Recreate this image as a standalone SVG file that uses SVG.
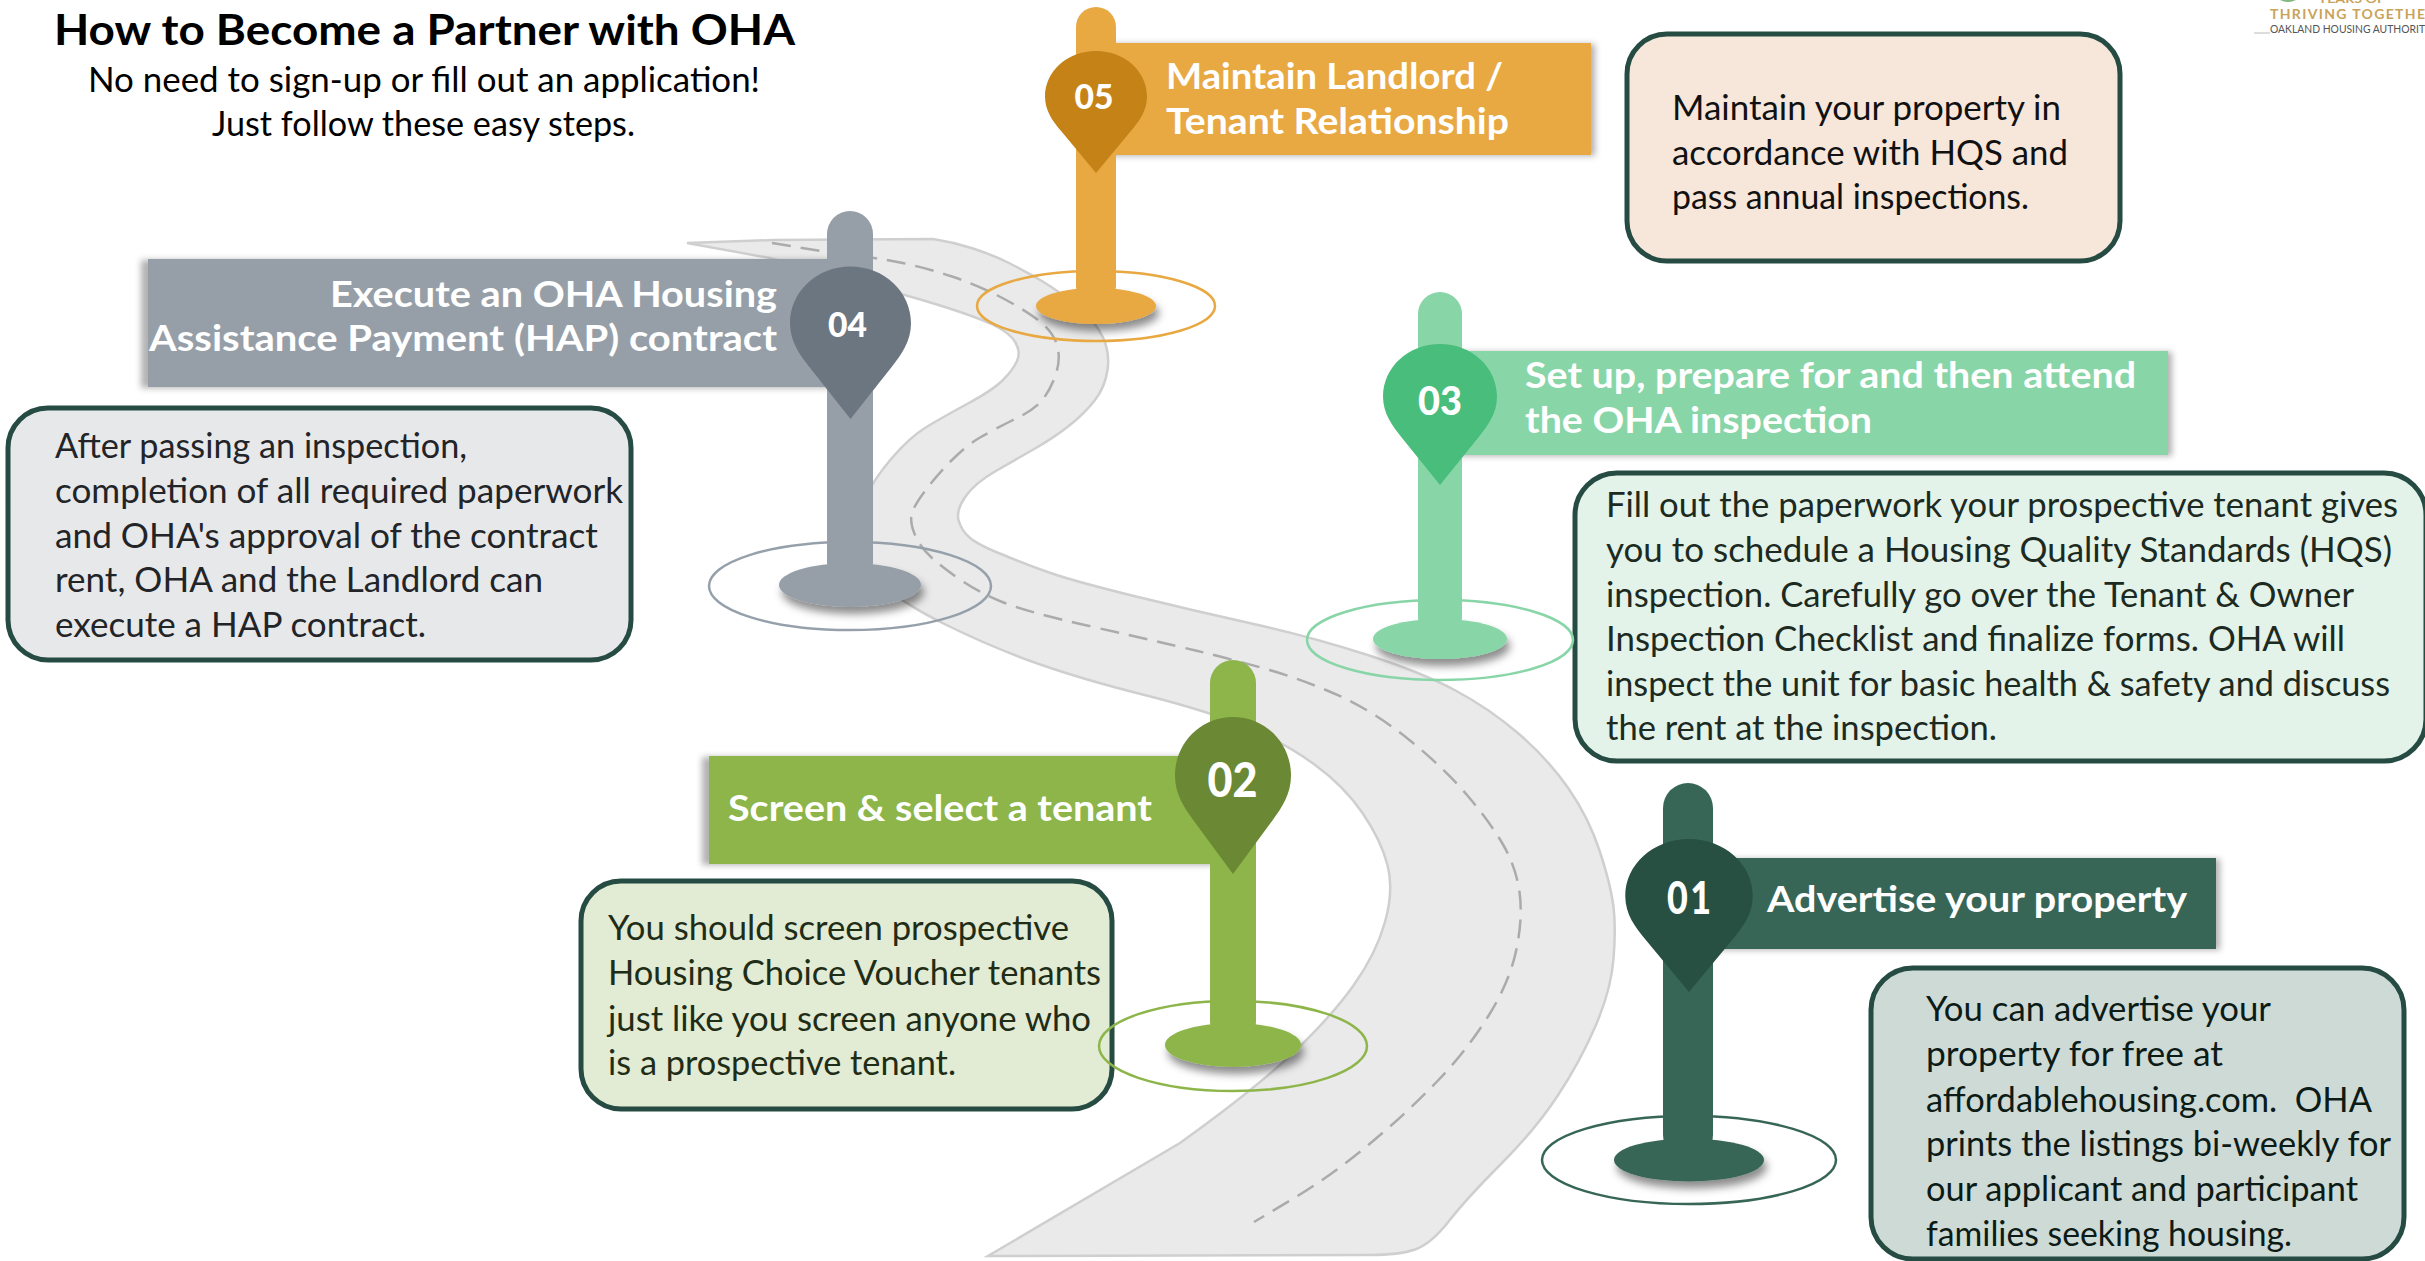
<svg xmlns="http://www.w3.org/2000/svg" width="2425" height="1261" viewBox="0 0 2425 1261">
<style>
text{font-family:"Lato","Noto Sans","Liberation Sans",sans-serif}
.t{font-size:42px;font-weight:700;fill:#000}
.s{font-size:35px;fill:#000}
.b{font-size:35px}
.h{font-size:37px;font-weight:700;fill:#fff}
.n{font-weight:900;fill:#fff}
.box{stroke:#254B42;stroke-width:5}
.ring{fill:none;stroke-width:2.5}
</style>
<defs>
<path id="pin" d="M0,0C28,0 50,21 50,47C50,62 42,73 34,83L0,126L-34,83C-42,73 -50,62 -50,47C-50,21 -28,0 0,0Z"/>
<filter id="shL" x="-10%" y="-15%" width="120%" height="130%"><feDropShadow dx="-7" dy="1" stdDeviation="3" flood-color="#000" flood-opacity=".3"/></filter>
<filter id="shR" x="-10%" y="-15%" width="120%" height="130%"><feDropShadow dx="4" dy="1" stdDeviation="3" flood-color="#000" flood-opacity=".3"/></filter>
<filter id="shB" x="-20%" y="-30%" width="140%" height="180%"><feDropShadow dx="3" dy="7" stdDeviation="4" flood-color="#000" flood-opacity=".45"/></filter>
</defs>
<rect width="2425" height="1261" fill="#fff"/>
<g id="road">
<path fill="#EAEAEA" stroke="#CFCFCF" stroke-width="2.5" d="M687,243L773,240L933,239Q953,242 973,248.5Q993,255 1010,263.5Q1027,272 1043.5,282Q1060,292 1078,307Q1096,322 1103,337.5Q1110,353 1107.5,370Q1105,387 1095,400Q1085,413 1070,425Q1055,437 1035,448.5Q1015,460 995,471.5Q975,483 965.5,496.5Q956,510 958.5,520Q961,530 969.5,537.5Q978,545 1003.5,555Q1027,565 1052,573.5Q1077,582 1136,596.5Q1195,611 1251.5,623.5Q1308,636 1364.5,654Q1421,672 1455.5,690.5Q1490,709 1519,734Q1548,759 1568.5,788.5Q1589,818 1600,852Q1611,886 1613.5,907Q1616,928 1613.5,959Q1611,990 1595.5,1026Q1580,1062 1557.5,1096Q1535,1130 1501,1164Q1467,1198 1449,1221Q1431,1244 1415,1249.5Q1399,1255 1370,1255L988,1256L1180,1143Q1254,1090 1292.5,1053.5Q1331,1017 1353.5,985.5Q1376,954 1385,922Q1394,890 1387.5,865Q1381,840 1362.5,813Q1344,786 1314.5,764.5Q1285,743 1246.5,727Q1208,711 1144.5,695Q1081,679 1036,663Q991,647 945.5,624.5Q900,602 878,581Q856,560 856,540Q856,520 864.5,500Q873,480 891.5,458.5Q910,437 926.5,427Q943,417 968,403.5Q993,390 1003,380Q1013,370 1017,361Q1021,352 1015.5,342.5Q1010,333 993.5,325Q977,317 938.5,305Q900,293 873,287L770,258Z"/>
<path fill="none" stroke="#ABABAB" stroke-width="2.5" stroke-dasharray="19 10" d="M772,243L827,252Q873,257 900,262.5Q927,268 952,276.5Q977,285 998.5,296Q1020,307 1036,318.5Q1052,330 1056.5,343.5Q1061,357 1056.5,372Q1052,387 1043.5,398.5Q1035,410 1013,420Q993,430 980,437.5Q967,445 952,460Q937,475 925,491Q913,507 911.5,515Q910,523 915,535Q920,547 931.5,557.5Q943,568 961.5,580.5Q980,593 1003.5,602.5Q1027,612 1093.5,627Q1160,642 1195.5,650.5Q1231,659 1269.5,670Q1308,681.5 1342,697Q1376,713 1410,740.5Q1444,768 1467,795Q1490,822 1503,844.5Q1516,867 1519.5,892Q1523,917 1516.5,949Q1510,981 1489,1015Q1468,1049 1438,1080.5Q1408,1112 1369.5,1144Q1331,1176 1292.5,1199L1254,1222"/>
</g>
<g id="heading">
<text class="t" x="54" y="45" textLength="741" lengthAdjust="spacingAndGlyphs">How to Become a Partner with OHA</text>
<text class="s" x="88" y="91.5" textLength="672" lengthAdjust="spacingAndGlyphs">No need to sign-up or fill out an application!</text>
<text class="s" x="212" y="136" textLength="423" lengthAdjust="spacingAndGlyphs">Just follow these easy steps.</text>
</g>
<g id="logo">
<path d="M2280,0Q2288,4 2296,0Z" fill="#7FB77E"/>
<path d="M2254,33H2270" stroke="#BBB" stroke-width="1"/>
<text x="2318" y="3" font-size="12" font-weight="700" fill="#C9A35A" textLength="67" lengthAdjust="spacingAndGlyphs">YEARS OF</text>
<text x="2270" y="19" font-size="14" font-weight="700" fill="#C9A35A" textLength="155" lengthAdjust="spacing">THRIVING TOGETHE</text>
<text x="2270" y="33" font-size="12" font-weight="400" fill="#555" textLength="155" lengthAdjust="spacingAndGlyphs">OAKLAND HOUSING AUTHORIT</text>
</g>
<g id="step-04">
<rect class="box" x="8" y="408" width="623" height="252" rx="40" fill="#E7E8EA"/>
<g class="b" fill="#222428">
<text x="55" y="458" textLength="412" lengthAdjust="spacingAndGlyphs">After passing an inspection,</text>
<text x="55" y="503" textLength="568" lengthAdjust="spacingAndGlyphs">completion of all required paperwork</text>
<text x="55" y="547.5" textLength="543" lengthAdjust="spacingAndGlyphs">and OHA's approval of the contract</text>
<text x="55" y="592" textLength="488" lengthAdjust="spacingAndGlyphs">rent, OHA and the Landlord can</text>
<text x="55" y="637" textLength="371" lengthAdjust="spacingAndGlyphs">execute a HAP contract.</text>
</g>
<ellipse class="ring" cx="850" cy="586" rx="141" ry="44" stroke="#96A0AB"/>
<ellipse cx="850" cy="585" rx="71" ry="22" fill="#969FA8" filter="url(#shB)"/>
<rect x="148" y="259" width="690" height="128" fill="#969FA8" filter="url(#shL)"/>
<rect x="827" y="211" width="46" height="375" rx="23" fill="#969FA8"/>
<use href="#pin" transform="translate(850.5,266.5) scale(1.21)" fill="#6C7680"/>
<text class="n" x="828" y="336.5" font-size="35" textLength="39" lengthAdjust="spacingAndGlyphs">04</text>
<text class="h" x="330" y="306.5" textLength="447" lengthAdjust="spacingAndGlyphs">Execute an OHA Housing</text>
<text class="h" x="149" y="351" textLength="628" lengthAdjust="spacingAndGlyphs">Assistance Payment (HAP) contract</text>
</g>
<g id="step-05">
<rect class="box" x="1627" y="34" width="493" height="227" rx="40" fill="#F7E6DA"/>
<g class="b" fill="#111">
<text x="1672" y="119.5" textLength="389" lengthAdjust="spacingAndGlyphs">Maintain your property in</text>
<text x="1672" y="164.5" textLength="396" lengthAdjust="spacingAndGlyphs">accordance with HQS and</text>
<text x="1672" y="209" textLength="357" lengthAdjust="spacingAndGlyphs">pass annual inspections.</text>
</g>
<ellipse class="ring" cx="1096" cy="306" rx="119" ry="35" stroke="#E8A842"/>
<ellipse cx="1096" cy="306" rx="60" ry="18" fill="#E8A842" filter="url(#shB)"/>
<rect x="1100" y="43" width="491" height="112" fill="#E8A842" filter="url(#shR)"/>
<rect x="1076" y="7" width="40" height="299" rx="20" fill="#E8A842"/>
<use href="#pin" transform="translate(1096,51) scale(1.02,.968)" fill="#C58216"/>
<text class="n" x="1074.5" y="108.5" font-size="35" textLength="39" lengthAdjust="spacingAndGlyphs">05</text>
<text class="h" x="1166" y="89" textLength="337" lengthAdjust="spacingAndGlyphs">Maintain Landlord /</text>
<text class="h" x="1166" y="134" textLength="343" lengthAdjust="spacingAndGlyphs">Tenant Relationship</text>
</g>
<g id="step-03">
<rect class="box" x="1575" y="473" width="851" height="288" rx="42" fill="#E3F3E9"/>
<g class="b" fill="#1C2A22">
<text x="1606" y="517" textLength="792" lengthAdjust="spacingAndGlyphs">Fill out the paperwork your prospective tenant gives</text>
<text x="1606" y="561.5" textLength="786" lengthAdjust="spacingAndGlyphs">you to schedule a Housing Quality Standards (HQS)</text>
<text x="1606" y="606.5" textLength="748" lengthAdjust="spacingAndGlyphs">inspection. Carefully go over the Tenant &amp; Owner</text>
<text x="1606" y="651" textLength="739" lengthAdjust="spacingAndGlyphs">Inspection Checklist and finalize forms. OHA will</text>
<text x="1606" y="695.5" textLength="784" lengthAdjust="spacingAndGlyphs">inspect the unit for basic health &amp; safety and discuss</text>
<text x="1606" y="740" textLength="391" lengthAdjust="spacingAndGlyphs">the rent at the inspection.</text>
</g>
<ellipse class="ring" cx="1440" cy="640" rx="133" ry="40" stroke="#88D5A8"/>
<ellipse cx="1440" cy="639" rx="67" ry="20" fill="#88D5A8" filter="url(#shB)"/>
<rect x="1440" y="351" width="728" height="104" fill="#88D5A8" filter="url(#shR)"/>
<rect x="1418" y="292" width="44" height="348" rx="22" fill="#88D5A8"/>
<use href="#pin" transform="translate(1440,344) scale(1.14,1.119)" fill="#49BD7B"/>
<text class="n" x="1418" y="414.5" font-size="40" textLength="44" lengthAdjust="spacingAndGlyphs">03</text>
<text class="h" x="1525" y="388" textLength="611" lengthAdjust="spacingAndGlyphs">Set up, prepare for and then attend</text>
<text class="h" x="1525" y="433" textLength="347" lengthAdjust="spacingAndGlyphs">the OHA inspection</text>
</g>
<g id="step-02">
<rect class="box" x="581" y="881" width="531" height="228" rx="40" fill="#E2EBD4"/>
<g class="b" fill="#1F2D17">
<text x="608" y="940" textLength="461" lengthAdjust="spacingAndGlyphs">You should screen prospective</text>
<text x="608" y="985" textLength="493" lengthAdjust="spacingAndGlyphs">Housing Choice Voucher tenants</text>
<text x="608" y="1030.5" textLength="483" lengthAdjust="spacingAndGlyphs">just like you screen anyone who</text>
<text x="608" y="1075" textLength="348" lengthAdjust="spacingAndGlyphs">is a prospective tenant.</text>
</g>
<ellipse class="ring" cx="1233" cy="1046" rx="134" ry="45" stroke="#8DB54A"/>
<ellipse cx="1233" cy="1045" rx="68" ry="22" fill="#8DB54A" filter="url(#shB)"/>
<rect x="709" y="756" width="520" height="108" fill="#8DB54A" filter="url(#shL)"/>
<rect x="1210" y="660" width="46" height="385" rx="23" fill="#8DB54A"/>
<use href="#pin" transform="translate(1233,717) scale(1.16,1.246)" fill="#6B8834"/>
<text class="n" x="1207.5" y="796.5" font-size="47" textLength="50" lengthAdjust="spacingAndGlyphs">02</text>
<text class="h" x="728" y="820.5" textLength="424" lengthAdjust="spacingAndGlyphs">Screen &amp; select a tenant</text>
</g>
<g id="step-01">
<rect class="box" x="1871" y="968" width="533" height="291" rx="42" fill="#CDDAD5"/>
<g class="b" fill="#0D1B16">
<text x="1926" y="1021" textLength="345" lengthAdjust="spacingAndGlyphs">You can advertise your</text>
<text x="1926" y="1066" textLength="297" lengthAdjust="spacingAndGlyphs">property for free at</text>
<text x="1926" y="1111.5" textLength="446" lengthAdjust="spacingAndGlyphs" xml:space="preserve">affordablehousing.com.  OHA</text>
<text x="1926" y="1156" textLength="465" lengthAdjust="spacingAndGlyphs">prints the listings bi-weekly for</text>
<text x="1926" y="1201" textLength="432" lengthAdjust="spacingAndGlyphs">our applicant and participant</text>
<text x="1926" y="1245.5" textLength="366" lengthAdjust="spacingAndGlyphs">families seeking housing.</text>
</g>
<ellipse class="ring" cx="1689" cy="1160" rx="147" ry="44" stroke="#376657"/>
<ellipse cx="1689" cy="1160" rx="75" ry="21.5" fill="#376657" filter="url(#shB)"/>
<rect x="1690" y="858" width="526" height="91" fill="#376657" filter="url(#shR)"/>
<rect x="1663" y="783" width="50" height="377" rx="25" fill="#376657"/>
<use href="#pin" transform="translate(1689,839) scale(1.275,1.214)" fill="#274F42"/>
<text class="n" x="1667" y="913.5" font-size="46" textLength="44" lengthAdjust="spacingAndGlyphs">0<tspan dx="3">1</tspan></text>
<text class="h" x="1767" y="912" textLength="420" lengthAdjust="spacingAndGlyphs">Advertise your property</text>
</g>
</svg>
